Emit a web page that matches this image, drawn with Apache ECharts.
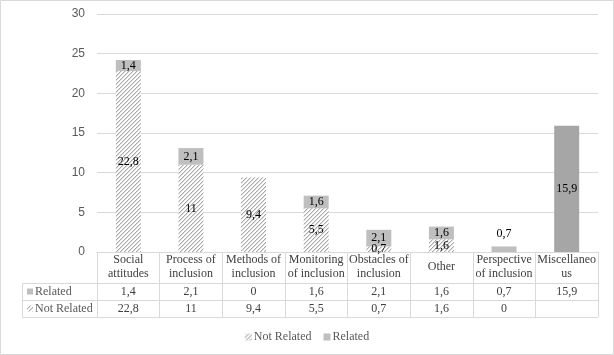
<!DOCTYPE html>
<html><head><meta charset="utf-8">
<script src="https://cdn.jsdelivr.net/npm/echarts@6/dist/echarts.min.js"></script>
<style>html,body{margin:0;padding:0;background:#fff}#c{width:614px;height:355px}</style>
</head><body><div id="c"></div>
<script>
var categories = ['Social attitudes','Process of inclusion','Methods of inclusion','Monitoring of inclusion','Obstacles of inclusion','Other','Perspective of inclusion','Miscellaneous'];
var categoryLabels = ['Social\nattitudes','Process of\ninclusion','Methods of\ninclusion','Monitoring\nof inclusion','Obstacles of\ninclusion','Other','Perspective\nof inclusion','Miscellaneo\nus'];
var related = [1.4, 2.1, 0, 1.6, 2.1, 1.6, 0.7, 15.9];
var notRelated = [22.8, 11, 9.4, 5.5, 0.7, 1.6, 0, null];
var yTicks = {min: 0, max: 30, interval: 5};

function fmt(v){ return (v === null || v === undefined) ? '' : String(v).replace('.', ','); }

function hatchCanvas(){
  var n = 4, c = document.createElement('canvas'); c.width = n; c.height = n;
  var g = c.getContext('2d');
  g.fillStyle = '#ffffff'; g.fillRect(0,0,n,n);
  for (var x = 0; x < n; x++) for (var y = 0; y < n; y++) {
    var s = (x + y) % n;
    if (s === n - 1) { g.fillStyle = '#a8a8a8'; g.fillRect(x,y,1,1); }
    else if (s === 0) { g.fillStyle = '#dedede'; g.fillRect(x,y,1,1); }
  }
  return c;
}
var hatch = {image: hatchCanvas(), repeat: 'repeat'};
var relColor = '#bfbfbf', miscColor = '#a6a6a6';
var serif = 'Liberation Serif';
var lineC = '#d9d9d9';

var G = {left: 97, right: 16, top: 14, bottom: 103};
var W = 614, H = 355;
var axisY = H - G.bottom;            // 252
var rowH = [31, 17, 17];
var y1 = axisY + rowH[0], y2 = y1 + rowH[1], y3 = y2 + rowH[2];
var tableLeft = 22;

var chart = echarts.init(document.getElementById('c'), null, {renderer: 'canvas'});

var relData = related.map(function(v, i){
  var d = {value: v, itemStyle: {color: i === related.length - 1 ? miscColor : relColor}};
  if (notRelated[i] === 0) d.label = {position: 'top', distance: 7};
  return d;
});

chart.setOption({
  animation: false,
  textStyle: {fontFamily: serif},
  grid: {left: G.left, right: G.right, top: G.top, bottom: G.bottom, containLabel: false},
  xAxis: [
    {type: 'category', data: categories, position: 'bottom',
     axisLine: {show: true, lineStyle: {color: lineC}},
     axisTick: {show: true, length: y3 - axisY, lineStyle: {color: lineC}},
     axisLabel: {interval: 0, margin: 15, verticalAlign: 'middle', lineHeight: 14,
       fontFamily: serif, fontSize: 12, color: '#404040',
       formatter: function(v, i){ return categoryLabels[i]; }}},
    {type: 'category', data: categories, position: 'bottom',
     axisLine: {show: false}, axisTick: {show: false},
     axisLabel: {interval: 0, margin: rowH[0] + rowH[1] / 2, verticalAlign: 'middle',
       fontFamily: serif, fontSize: 12, color: '#404040',
       formatter: function(v, i){ return fmt(related[i]); }}},
    {type: 'category', data: categories, position: 'bottom',
     axisLine: {show: false}, axisTick: {show: false},
     axisLabel: {interval: 0, margin: rowH[0] + rowH[1] + rowH[2] / 2, verticalAlign: 'middle',
       fontFamily: serif, fontSize: 12, color: '#404040',
       formatter: function(v, i){ return fmt(notRelated[i]); }}}
  ],
  yAxis: {type: 'value', min: yTicks.min, max: yTicks.max, interval: yTicks.interval,
    axisLine: {show: false}, axisTick: {show: false},
    splitLine: {lineStyle: {color: lineC}},
    axisLabel: {margin: 12, fontFamily: 'Liberation Sans', fontSize: 12, color: '#595959'}},
  legend: {bottom: 7, left: 'center', itemWidth: 7, itemHeight: 7, itemGap: 12,
    icon: 'rect', textStyle: {fontFamily: serif, fontSize: 12, color: '#595959', padding: [0, 0, 0, -3]},
    data: ['Not Related', 'Related']},
  series: [
    {name: 'Not Related', type: 'bar', stack: 's', barWidth: 25, xAxisIndex: 0,
     itemStyle: {color: hatch}, data: notRelated,
     label: {show: true, position: 'inside', fontFamily: serif, fontSize: 12, color: '#000',
       formatter: function(p){ return p.value ? fmt(p.value) : ''; }}},
    {name: 'Related', type: 'bar', stack: 's', barWidth: 25, xAxisIndex: 0,
     itemStyle: {color: relColor}, data: relData,
     label: {show: true, position: 'inside', fontFamily: serif, fontSize: 12, color: '#000',
       formatter: function(p){ return p.value ? fmt(p.value) : ''; }}}
  ],
  graphic: [
    {type: 'rect', shape: {x: 0.5, y: 0.5, width: W - 1, height: H - 1}, style: {fill: 'none', stroke: lineC}, silent: true},
    {type: 'line', shape: {x1: tableLeft, y1: y1 + 0.5, x2: W - G.right, y2: y1 + 0.5}, style: {stroke: lineC}},
    {type: 'line', shape: {x1: tableLeft, y1: y2 + 0.5, x2: W - G.right, y2: y2 + 0.5}, style: {stroke: lineC}},
    {type: 'line', shape: {x1: tableLeft, y1: y3 + 0.5, x2: W - G.right, y2: y3 + 0.5}, style: {stroke: lineC}},
    {type: 'line', shape: {x1: tableLeft + 0.5, y1: y1, x2: tableLeft + 0.5, y2: y3}, style: {stroke: lineC}},
    {type: 'rect', shape: {x: tableLeft + 5, y: y1 + rowH[1] / 2 - 3, width: 6, height: 6}, style: {fill: relColor}},
    {type: 'text', x: tableLeft + 13, y: y1 + rowH[1] / 2, style: {text: 'Related', fontFamily: serif, fontSize: 12, fill: '#595959', verticalAlign: 'middle'}},
    {type: 'rect', shape: {x: tableLeft + 5, y: y2 + rowH[2] / 2 - 3, width: 6, height: 6}, style: {fill: hatch}},
    {type: 'text', x: tableLeft + 13, y: y2 + rowH[2] / 2, style: {text: 'Not Related', fontFamily: serif, fontSize: 12, fill: '#595959', verticalAlign: 'middle'}}
  ]
});
</script></body></html>
